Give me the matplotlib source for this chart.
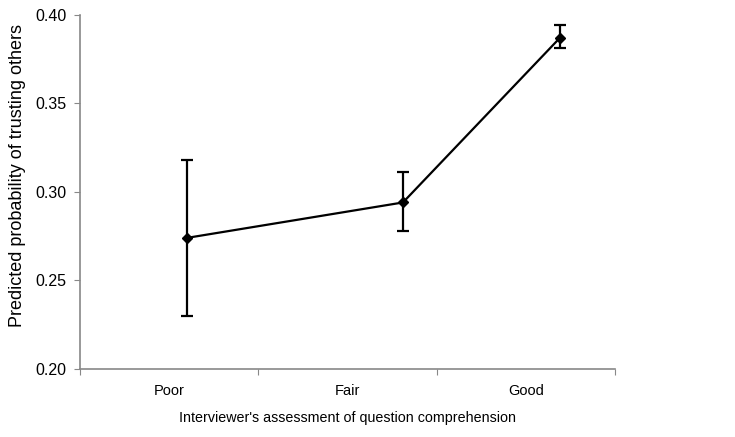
import numpy as np
import matplotlib.pyplot as plt

plt.rcParams['font.family'] = ['Liberation Sans', 'DejaVu Sans']

# --- data ---
categories = ['Poor', 'Fair', 'Good']
x_pos = [0.60, 1.81, 2.69]          # where each point sits along the category axis
prob = [0.274, 0.294, 0.387]
err_low = [0.230, 0.278, 0.381]
err_high = [0.318, 0.311, 0.394]

prob = np.array(prob)
yerr = np.vstack([prob - np.array(err_low), np.array(err_high) - prob])

fig = plt.figure(figsize=(7.35, 4.37), dpi=100)
ax = fig.add_axes([0.109, 0.156, 0.728, 0.810])

ax.errorbar(x_pos, prob, yerr=yerr, color='black', lw=1.6, marker='D', ms=5.5,
            capsize=4, capthick=1.6, elinewidth=1.6)

ax.set_xlim(0, 3)
ax.set_ylim(0.20, 0.40)
ax.set_yticks(np.arange(0.20, 0.401, 0.05))
ax.set_yticklabels([f'{v:.2f}' for v in np.arange(0.20, 0.401, 0.05)])

# category boundaries as ticks, names centered in between
ax.set_xticks([0, 1, 2, 3])
ax.set_xticklabels([])
ax.set_xticks([0.5, 1.5, 2.5], minor=True)
ax.set_xticklabels(categories, minor=True)
ax.tick_params(axis='x', which='minor', length=0, pad=11, labelsize=10.5)
ax.tick_params(axis='x', which='major', length=4, color='#888888')
ax.tick_params(axis='y', length=4, color='#888888', pad=6, labelsize=11.5)

for s in ['top', 'right']:
    ax.spines[s].set_visible(False)
for s in ['left', 'bottom']:
    ax.spines[s].set_color('#888888')
    ax.spines[s].set_linewidth(1.2)

ax.set_xlabel("Interviewer's assessment of question comprehension", fontsize=10.3, labelpad=9)
ax.set_ylabel('Predicted probability of trusting others', fontsize=13)
ax.yaxis.set_label_coords(-0.101, 0.545)

fig.savefig('out.png', dpi=100, facecolor='white')
